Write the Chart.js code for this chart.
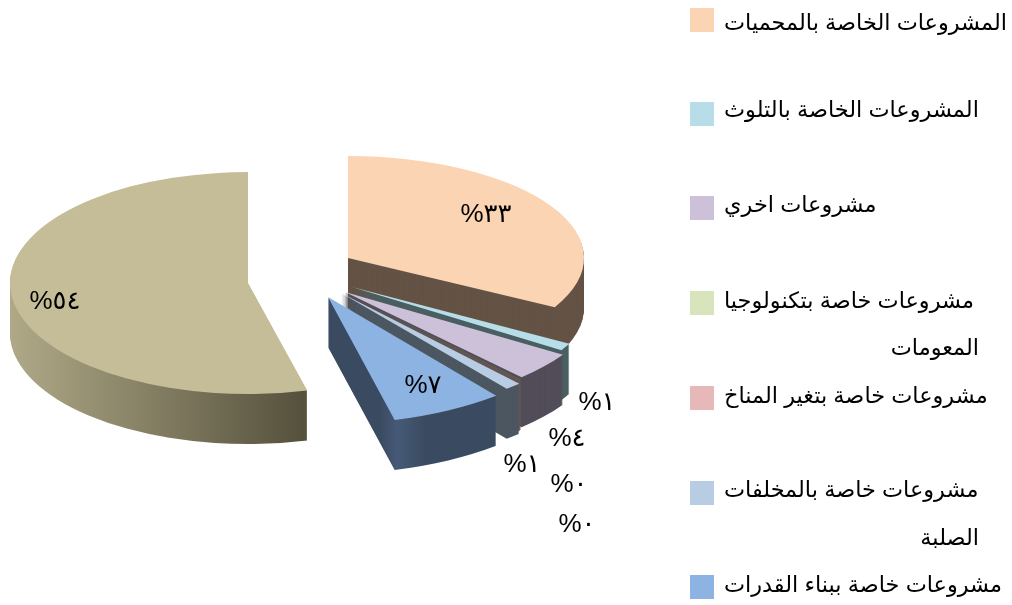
<!DOCTYPE html>
<html lang="ar"><head><meta charset="utf-8">
<style>html,body{margin:0;padding:0;background:#fff}canvas{display:block}</style>
<script src="https://cdn.jsdelivr.net/npm/chart.js@4"></script></head>
<body><canvas id="c" width="1012" height="605"></canvas>
<script>
const categories = ["المشروعات الخاصة بالمحميات","المشروعات الخاصة بالتلوث","مشروعات اخري","مشروعات خاصة بتكنولوجيا المعومات","مشروعات خاصة بتغير المناخ","مشروعات خاصة بالمخلفات الصلبة","مشروعات خاصة ببناء القدرات","أخرى"];
const values = [33, 1, 4, 0.1, 0.1, 1, 6.8, 54];
const percentLabels = ["٣٣%","١%","٤%","٠%","٠%","١%","٧%","٥٤%"];
const topColors = ["#fbd4b4","#b7dde8","#ccc1d9","#d8e4bc","#e6b8b7","#b8cce4","#8db3e2","#c4bd97"];
const wallColors = ["#645345","#4a5f62","#524d59","#5c6350","#6a5254","#4c5761","#3a4a60",null];

// Drawing styles: exploded-slice shift and perspective radii, per slice
const baseRadius = 238, depth = 50;
const shiftX = [53,57,50,48,47,46,33,-47], shiftY = [-19,10,15,15,15,16,20,6];
const radX = [236,248,258,260,262,264,268,238], radY = [102,118,117,120,121,123,127,111];
const paintOrder = [7,0,1,2,3,4,5,6];
const labelX = [486,597,567,569,577,522,423,55], labelY = [215,403,439,485,525,465,386,302];
const legendRows = [[0,20,4],[1,114,-3],[2,208,-2],[3,303,-1],[4,398,-1],[5,493,-2],[6,587,-1]];
const legendLines = {3:["مشروعات خاصة بتكنولوجيا","المعومات"],5:["مشروعات خاصة بالمخلفات","الصلبة"]};
const FONT = '"Liberation Sans","DejaVu Sans",sans-serif';

const pie3d = {
  id:'pie3d',
  beforeDatasetsDraw(chart){
    const ctx = chart.ctx, arcs = chart.getDatasetMeta(0).data;
    const cx = arcs[0].x, cy = arcs[0].y;
    const paint = (i, dy, color) => {
      const clone = Object.create(arcs[i]);
      clone.options = Object.create(arcs[i].options);
      clone.options.backgroundColor = color;
      clone.options.borderWidth = 0;
      ctx.save();
      ctx.translate(cx + shiftX[i], cy + shiftY[i] + dy);
      ctx.scale(radX[i]/baseRadius, radY[i]/baseRadius);
      ctx.translate(-cx, -cy);
      clone.draw(ctx);
      ctx.restore();
    };
    const localX = (i, X) => cx + (X - cx - shiftX[i]) * baseRadius / radX[i];
    for (const i of paintOrder) {
      let wall = wallColors[i];
      if (i === 7) {
        wall = ctx.createLinearGradient(localX(i,10),0,localX(i,303),0);
        wall.addColorStop(0,'#b0a988'); wall.addColorStop(1,'#55513c');
      } else if (i === 6) {
        wall = ctx.createLinearGradient(localX(i,380),0,localX(i,495),0);
        wall.addColorStop(0,'#3a4a60'); wall.addColorStop(.15,'#465a77');
        wall.addColorStop(.4,'#3a4a60'); wall.addColorStop(1,'#3a4a60');
      }
      for (let d = depth; d >= 1; d--) paint(i, d, wall);
      paint(i, 0, (i === 3 || i === 4) ? wallColors[i] : topColors[i]);
    }
    return false;
  },
  afterDraw(chart){
    const ctx = chart.ctx;
    ctx.save();
    ctx.fillStyle = '#000';
    ctx.textBaseline = 'middle';
    ctx.direction = 'rtl';
    ctx.textAlign = 'center';
    ctx.font = '26px ' + FONT;
    percentLabels.forEach((t,i)=>ctx.fillText(t,labelX[i],labelY[i]));
    ctx.font = '22.4px ' + FONT;
    for (const [i,y,dy] of legendRows) {
      ctx.fillStyle = topColors[i];
      ctx.fillRect(690,y-12,24,24);
      ctx.fillStyle = '#000';
      const lines = legendLines[i] || [categories[i]];
      ctx.textAlign = 'left';
      ctx.fillText(lines[0],724,y+dy);
      if (lines[1]) { ctx.textAlign = 'right'; ctx.fillText(lines[1],979,y+46); }
    }
    ctx.restore();
  }
};
new Chart(document.getElementById('c'),{
  type:'pie',
  data:{labels:categories,datasets:[{data:values,backgroundColor:topColors,borderWidth:0}]},
  options:{responsive:false,animation:false,radius:baseRadius,rotation:0,
    layout:{padding:{right:422,bottom:51}},
    plugins:{legend:{display:false},tooltip:{enabled:false}}},
  plugins:[pie3d]
});
</script></body></html>
